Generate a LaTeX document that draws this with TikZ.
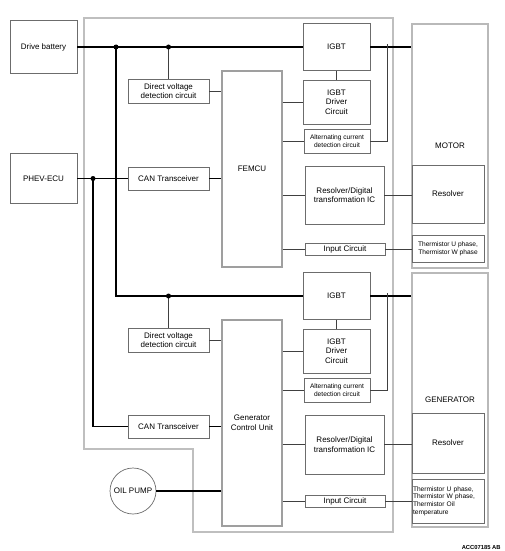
\documentclass[tikz,border=0pt]{standalone}
\usepackage{fontspec}
\setmainfont{Liberation Sans}
\usetikzlibrary{positioning,calc}

\begin{document}
\begin{tikzpicture}[
            x=1pt, y=-1pt,
            blk/.style={draw=gray!85!black, line width=0.7pt, inner sep=1pt,
                align=center, font=\fontsize{8}{9.6}\selectfont},
            big/.style={blk, draw=gray!55, line width=1.2pt},
            tiny/.style={blk, font=\fontsize{6.6}{7.6}\selectfont},
            bus/.style={black, line width=1.1pt},
            wire/.style={black!75, line width=0.6pt},
            dot/.style={circle, fill=black, inner sep=0pt, minimum size=5pt}
        ]
        \useasboundingbox (0,0) rectangle (505,551);
        % housing of the inverter
        \draw[gray!50, line width=1.3pt] (84,18) -- (393,18) -- (393,532) -- (193,532)
            -- (193,449) -- (84,449) -- cycle;

        % outside units
        \node[blk, minimum width=67pt, minimum height=53pt] (batt) at (43.5,47) {Drive battery};
        \node[blk, minimum width=67pt, minimum height=50pt] (phev) at (43.5,178.5) {PHEV-ECU};
        \node[blk, circle, minimum size=46pt, inner sep=0pt] (pump) at (133,491) {OIL PUMP};
        \node[big, minimum width=76pt, minimum height=244pt] (motor) at (450,146) {MOTOR};
        \node[big, minimum width=76pt, minimum height=254pt] (gen) at (450,400) {GENERATOR};
        \node[blk, minimum width=72pt, minimum height=58pt] (res1) at (448,194) {Resolver};
        \node[blk, minimum width=72pt, minimum height=60pt] (res2) at (448,443) {Resolver};
        \node[tiny, inner sep=0.5pt, minimum width=72pt, minimum height=27pt] (th1) at (448,248.5)
            {Thermistor U phase,\\Thermistor W phase};
        \node[tiny, inner sep=0.5pt, align=left, minimum width=72pt, minimum height=44pt, text width=70pt] (th2) at (448,501)
            {Thermistor U phase,\\Thermistor W phase,\\Thermistor Oil\\temperature};

        % motor side
        \node[big, draw=gray!75, minimum width=60pt, minimum height=196pt] (femcu) at (252,169) {FEMCU};
        \node[blk, minimum width=81pt, minimum height=24pt] (dvd1) at (168.5,91) {Direct voltage\\detection circuit};
        \node[blk, minimum width=81pt, minimum height=23pt] (can1) at (168.5,178.5) {CAN Transceiver};
        \node[blk, minimum width=67pt, minimum height=47pt] (igbt1) at (336.5,47) {IGBT};
        \node[blk, minimum width=67pt, minimum height=44pt] (drv1) at (336.5,102) {IGBT\\Driver\\Circuit};
        \node[tiny, inner sep=0.5pt, minimum width=66pt, minimum height=24pt] (acd1) at (337,141) {Alternating current\\detection circuit};
        \node[blk, minimum width=79pt, minimum height=58pt] (rdc1) at (344.5,195) {Resolver/Digital\\transformation IC};
        \node[blk, minimum width=80pt, minimum height=12pt] (inp1) at (345,249) {Input Circuit};

        % generator side
        \node[big, draw=gray!75, minimum width=60pt, minimum height=206pt] (gcu) at (252,423) {Generator\\Control Unit};
        \node[blk, minimum width=81pt, minimum height=24pt] (dvd2) at (168.5,340) {Direct voltage\\detection circuit};
        \node[blk, minimum width=81pt, minimum height=23pt] (can2) at (168.5,426.5) {CAN Transceiver};
        \node[blk, minimum width=67pt, minimum height=47pt] (igbt2) at (336.5,296) {IGBT};
        \node[blk, minimum width=67pt, minimum height=44pt] (drv2) at (336.5,351) {IGBT\\Driver\\Circuit};
        \node[tiny, inner sep=0.5pt, minimum width=66pt, minimum height=24pt] (acd2) at (337,390) {Alternating current\\detection circuit};
        \node[blk, minimum width=79pt, minimum height=59pt] (rdc2) at (344.5,444.5) {Resolver/Digital\\transformation IC};
        \node[blk, minimum width=80pt, minimum height=12pt] (inp2) at (345,501) {Input Circuit};

        \node[anchor=east, font=\bfseries\fontsize{5.8}{6.5}\selectfont] (code) at (504,547) {ACC07185 AB};

        % junctions
        \coordinate (j1) at (116,47);
        \coordinate (j2) at (168.5,47);
        \coordinate (j3) at (116,296);
        \coordinate (j4) at (168.5,296);
        \coordinate (j5) at (93,178.5);
        \coordinate (t1) at (387,44);
        \coordinate (t2) at (387,293);

        % high voltage and CAN lines
        \draw[bus] (batt.east) -- (igbt1.west);
        \draw[bus] (j1) -- (j3) -- (igbt2.west);
        \draw[bus] (phev.east) -- (can1.west);
        \draw[bus] (j5) |- (can2.west);
        \draw[bus] (can1.east) -- (can1.east -| femcu.west);
        \draw[bus] (can2.east) -- (can2.east -| gcu.west);
        \draw[bus] (igbt1.east) -- (igbt1.east -| motor.west);
        \draw[bus] (igbt2.east) -- (igbt2.east -| gen.west);
        \draw[bus] (pump.east) -- (pump.east -| gcu.west);

        % signal lines
        \draw[wire] (j2) -- (dvd1.north);
        \draw[wire] (j4) -- (dvd2.north);
        \draw[wire] (dvd1.east) -- (dvd1.east -| femcu.west);
        \draw[wire] (dvd2.east) -- (dvd2.east -| gcu.west);
        \foreach \u/\b in {femcu/1, gcu/2} {
            \draw[wire] (igbt\b.south) -- (drv\b.north);
            \draw[wire] (drv\b.west -| \u.east) -- (drv\b.west);
            \draw[wire] (acd\b.west -| \u.east) -- (acd\b.west);
            \draw[wire] (rdc\b.west -| \u.east) -- (rdc\b.west);
            \draw[wire] (inp\b.west -| \u.east) -- (inp\b.west);
            \draw[wire] (acd\b.east) -| (t\b);
            \draw[wire] (rdc\b.east) -- (res\b.west |- rdc\b.east);
            \draw[wire] (inp\b.east) -- (th\b.west |- inp\b.east);
        }

        \foreach \j in {j1, j2, j4, j5}
            \node[dot] at (\j) {};
        \end{tikzpicture}
\end{document}
